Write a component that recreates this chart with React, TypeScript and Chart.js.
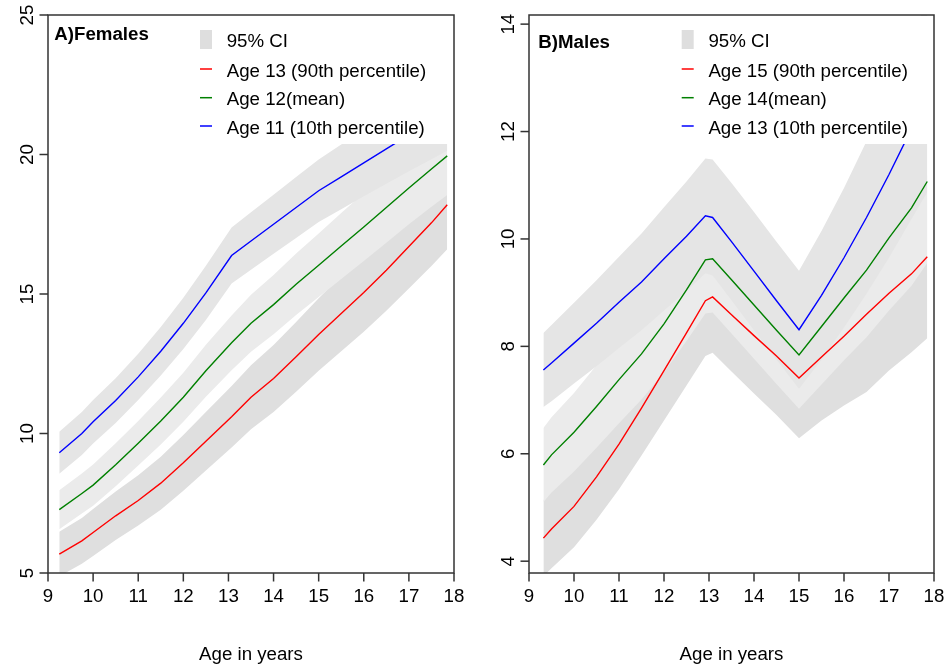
import React, { useEffect, useRef } from 'react';
import { Chart, registerables } from 'chart.js';

Chart.register(...registerables);

// ---------- Panel A: Females ----------
const femaleAges = [9.25, 9.75, 10, 10.5, 11, 11.5, 12, 12.5, 13.07, 13.5, 14, 14.5, 15, 15.5, 16, 16.5, 17, 17.5, 17.85];
const femaleP90 = [5.68, 6.15, 6.45, 7.05, 7.6, 8.22, 8.95, 9.72, 10.6, 11.3, 11.97, 12.75, 13.55, 14.3, 15.05, 15.85, 16.7, 17.55, 18.2];
const femaleP90Upper = [6.48, 6.97, 7.29, 7.92, 8.5, 9.17, 9.95, 10.77, 11.7, 12.45, 13.17, 14.0, 14.85, 15.65, 16.45, 17.3, 18.2, 19.1, 19.8];
const femaleP90Lower = [4.88, 5.33, 5.61, 6.18, 6.7, 7.27, 7.95, 8.67, 9.5, 10.15, 10.77, 11.5, 12.25, 12.95, 13.65, 14.4, 15.2, 16.0, 16.6];
const femaleMean = [7.27, 7.85, 8.15, 8.88, 9.65, 10.45, 11.3, 12.25, 13.25, 13.95, 14.62, 15.35, 16.03, 16.72, 17.4, 18.1, 18.8, 19.48, 19.95];
const femaleMeanUpper = [7.97, 8.57, 8.89, 9.65, 10.45, 11.29, 12.18, 13.18, 14.23, 14.97, 15.68, 16.45, 17.17, 17.9, 18.62, 19.36, 20.1, 20.83, 21.35];
const femaleMeanLower = [6.57, 7.13, 7.41, 8.11, 8.85, 9.61, 10.42, 11.32, 12.27, 12.93, 13.56, 14.25, 14.89, 15.54, 16.18, 16.84, 17.5, 18.13, 18.55];
const femaleP10 = [9.31, 10.0, 10.42, 11.18, 12.03, 12.95, 13.95, 15.04, 16.38, 16.9, 17.5, 18.1, 18.7, 19.2, 19.7, 20.2, 20.7, 21.2, 21.55];
const femaleP10Upper = [10.06, 10.77, 11.2, 11.98, 12.86, 13.82, 14.87, 16.01, 17.38, 17.93, 18.56, 19.19, 19.82, 20.36, 20.9, 21.45, 22.0, 22.57, 22.97];
const femaleP10Lower = [8.56, 9.23, 9.64, 10.38, 11.2, 12.08, 13.03, 14.07, 15.38, 15.87, 16.44, 17.01, 17.58, 18.04, 18.5, 18.95, 19.4, 19.83, 20.13];
const femaleYTicks = [5, 10, 15, 20, 25];
const femaleLabels = ['Age 13 (90th percentile)', 'Age 12(mean)', 'Age 11 (10th percentile)'];

// ---------- Panel B: Males ----------
const maleAges = [9.32, 9.5, 10, 10.5, 11, 11.5, 12, 12.5, 12.92, 13.08, 13.5, 14, 14.5, 15, 15.5, 16, 16.5, 17, 17.5, 17.85];
const maleP90 = [4.43, 4.6, 5.02, 5.57, 6.18, 6.85, 7.55, 8.25, 8.85, 8.92, 8.59, 8.2, 7.82, 7.41, 7.8, 8.19, 8.6, 8.99, 9.35, 9.67];
const maleP90Upper = [5.14, 5.33, 5.78, 6.37, 7.02, 7.73, 8.48, 9.23, 9.88, 9.96, 9.65, 9.28, 8.92, 8.53, 8.98, 9.43, 9.9, 10.37, 10.81, 11.19];
const maleP90Lower = [3.72, 3.87, 4.26, 4.77, 5.34, 5.97, 6.62, 7.27, 7.82, 7.88, 7.53, 7.12, 6.72, 6.29, 6.62, 6.9, 7.15, 7.55, 7.89, 8.15];
const maleMean = [5.79, 5.98, 6.4, 6.88, 7.38, 7.86, 8.42, 9.05, 9.61, 9.63, 9.24, 8.77, 8.3, 7.84, 8.37, 8.9, 9.42, 10.02, 10.58, 11.07];
const maleMeanUpper = [6.48, 6.68, 7.13, 7.65, 8.19, 8.71, 9.32, 10.0, 10.61, 10.63, 10.24, 9.77, 9.3, 8.84, 9.45, 10.06, 10.67, 11.37, 12.03, 12.59];
const maleMeanLower = [5.1, 5.28, 5.67, 6.11, 6.57, 7.01, 7.52, 8.1, 8.61, 8.63, 8.24, 7.77, 7.3, 6.84, 7.29, 7.74, 8.17, 8.67, 9.13, 9.55];
const maleP10 = [7.56, 7.69, 8.06, 8.43, 8.82, 9.2, 9.63, 10.05, 10.43, 10.4, 9.95, 9.4, 8.85, 8.31, 8.95, 9.65, 10.4, 11.2, 12.05, 12.65];
const maleP10Upper = [8.25, 8.4, 8.81, 9.23, 9.67, 10.1, 10.59, 11.07, 11.5, 11.48, 11.04, 10.5, 9.95, 9.41, 10.15, 10.95, 11.82, 12.75, 13.73, 14.43];
const maleP10Lower = [6.87, 6.98, 7.31, 7.63, 7.97, 8.3, 8.67, 9.03, 9.36, 9.32, 8.86, 8.3, 7.75, 7.21, 7.75, 8.35, 8.98, 9.65, 10.37, 10.87];
const maleYTicks = [4, 6, 8, 10, 12, 14];
const maleLabels = ['Age 15 (90th percentile)', 'Age 14(mean)', 'Age 13 (10th percentile)'];

const xTicks = [9, 10, 11, 12, 13, 14, 15, 16, 17, 18];
const ciLabel = '95% CI';
const xTitle = 'Age in years';

const FONT = '"Liberation Sans", Arial, Helvetica, sans-serif';
const FS = 18.7;
const W = 947;
const H = 667;

type Panel = {
  ages: number[];
  p90: number[]; p90U: number[]; p90L: number[];
  mean: number[]; meanU: number[]; meanL: number[];
  p10: number[]; p10U: number[]; p10L: number[];
  yTicks: number[];
  labels: string[];
  title: string;
  yMin: number; yMax: number;
  left: number; right: number;
  titleX: number; titleY: number;
  legX: number; boxL: number; boxR: number;
};

const panels: Panel[] = [
  {
    ages: femaleAges,
    p90: femaleP90, p90U: femaleP90Upper, p90L: femaleP90Lower,
    mean: femaleMean, meanU: femaleMeanUpper, meanL: femaleMeanLower,
    p10: femaleP10, p10U: femaleP10Upper, p10L: femaleP10Lower,
    yTicks: femaleYTicks, labels: femaleLabels, title: 'A)Females',
    yMin: 5, yMax: 25, left: 48, right: 454,
    titleX: 54.3, titleY: 39.5, legX: 200, boxL: 190, boxR: 449.5,
  },
  {
    ages: maleAges,
    p90: maleP90, p90U: maleP90Upper, p90L: maleP90Lower,
    mean: maleMean, meanU: maleMeanUpper, meanL: maleMeanLower,
    p10: maleP10, p10U: maleP10Upper, p10L: maleP10Lower,
    yTicks: maleYTicks, labels: maleLabels, title: 'B)Males',
    yMin: 3.78, yMax: 14.17, left: 529, right: 934,
    titleX: 538.3, titleY: 47.5, legX: 681.7, boxL: 672, boxR: 929.5,
  },
];

const RED = '#ff0000';
const GREEN = '#008000';
const BLUE = '#0000ff';
const BAND_RED = '#dfdfdf';
const BAND_GREEN = '#ebebeb';
const BAND_BLUE = '#e5e5e5';

function pts(xs: number[], ys: number[]) {
  return xs.map((x, i) => ({ x, y: ys[i] }));
}

function makePlugin(p: Panel) {
  return {
    id: 'rStyle',
    afterDatasetsDraw(chart: any) {
      const ctx = chart.ctx;
      const a = chart.chartArea;
      ctx.save();
      ctx.fillStyle = '#ffffff';
      ctx.fillRect(p.boxL, a.top + 1, p.boxR - p.boxL, 144 - a.top - 1);
      ctx.restore();
    },
    afterDraw(chart: any) {
      const ctx = chart.ctx;
      const a = chart.chartArea;
      const xs = chart.scales.x;
      const ys = chart.scales.y;
      ctx.save();
      // box
      ctx.strokeStyle = '#333';
      ctx.lineWidth = 1.5;
      ctx.strokeRect(a.left, a.top, a.right - a.left, a.bottom - a.top);
      // x ticks
      ctx.fillStyle = '#000';
      ctx.font = `${FS}px ${FONT}`;
      ctx.textAlign = 'center';
      ctx.textBaseline = 'alphabetic';
      for (const t of xTicks) {
        const px = xs.getPixelForValue(t);
        ctx.beginPath();
        ctx.moveTo(px, a.bottom);
        ctx.lineTo(px, a.bottom + 8.5);
        ctx.stroke();
        ctx.fillText(String(t), px, a.bottom + 28.7);
      }
      // y ticks
      for (const t of p.yTicks) {
        const py = ys.getPixelForValue(t);
        ctx.beginPath();
        ctx.moveTo(a.left - 8.5, py);
        ctx.lineTo(a.left, py);
        ctx.stroke();
        ctx.save();
        ctx.translate(a.left - 14.8, py);
        ctx.rotate(-Math.PI / 2);
        ctx.fillText(String(t), 0, 0);
        ctx.restore();
      }
      // x title
      ctx.fillText(xTitle, (a.left + a.right) / 2, 659.5);
      // panel title
      ctx.textAlign = 'left';
      ctx.font = `bold ${FS}px ${FONT}`;
      ctx.fillText(p.title, p.titleX, p.titleY);
      // legend
      ctx.font = `${FS}px ${FONT}`;
      const textX = p.legX + 26.7;
      ctx.fillStyle = '#dedede';
      ctx.fillRect(p.legX, 30, 12, 19);
      ctx.fillStyle = '#000';
      ctx.fillText(ciLabel, textX, 46.8);
      const cols = [RED, GREEN, BLUE];
      const centers = [69, 97.7, 126];
      for (let i = 0; i < 3; i++) {
        ctx.strokeStyle = cols[i];
        ctx.lineWidth = 1.5;
        ctx.beginPath();
        ctx.moveTo(p.legX, centers[i]);
        ctx.lineTo(p.legX + 12, centers[i]);
        ctx.stroke();
        ctx.fillStyle = '#000';
        ctx.fillText(p.labels[i], textX, centers[i] + 7.6);
      }
      ctx.restore();
    },
  };
}

function PanelChart({ p }: { p: Panel }) {
  const ref = useRef<HTMLCanvasElement | null>(null);
  useEffect(() => {
    if (!ref.current) return;
    const band = (data: number[], color: string, fill: any, order: number) => ({
      data: pts(p.ages, data),
      borderColor: 'rgba(0,0,0,0)',
      borderWidth: 0,
      backgroundColor: color,
      pointRadius: 0,
      fill,
      order,
    });
    const line = (data: number[], color: string) => ({
      data: pts(p.ages, data),
      borderColor: color,
      borderWidth: 1.4,
      pointRadius: 0,
      fill: false,
      order: 0,
    });
    const chart = new Chart(ref.current, {
      type: 'line',
      data: {
        datasets: [
          line(p.p90, RED),
          line(p.mean, GREEN),
          line(p.p10, BLUE),
          band(p.p10L, BAND_BLUE, false, 10),
          band(p.p10U, BAND_BLUE, '-1', 10),
          band(p.meanL, BAND_GREEN, false, 20),
          band(p.meanU, BAND_GREEN, '-1', 20),
          band(p.p90L, BAND_RED, false, 30),
          band(p.p90U, BAND_RED, '-1', 30),
        ] as any,
      },
      options: {
        responsive: false,
        animation: false,
        events: [],
        layout: { padding: { left: p.left, right: W - p.right, top: 15, bottom: 94 } },
        plugins: { legend: { display: false }, tooltip: { enabled: false } },
        elements: { line: { tension: 0 }, point: { radius: 0 } },
        scales: {
          x: { type: 'linear', min: 9, max: 18, display: false },
          y: { type: 'linear', min: p.yMin, max: p.yMax, display: false },
        },
      } as any,
      plugins: [makePlugin(p)],
    });
    return () => chart.destroy();
  }, [p]);
  return (
    <canvas
      ref={ref}
      width={W}
      height={H}
      style={{ position: 'absolute', left: 0, top: 0, width: W, height: H }}
    />
  );
}

export default function App() {
  return (
    <div style={{ position: 'fixed', left: 0, top: 0, width: W, height: H, background: '#fff' }}>
      {panels.map((p) => (
        <PanelChart key={p.title} p={p} />
      ))}
    </div>
  );
}
